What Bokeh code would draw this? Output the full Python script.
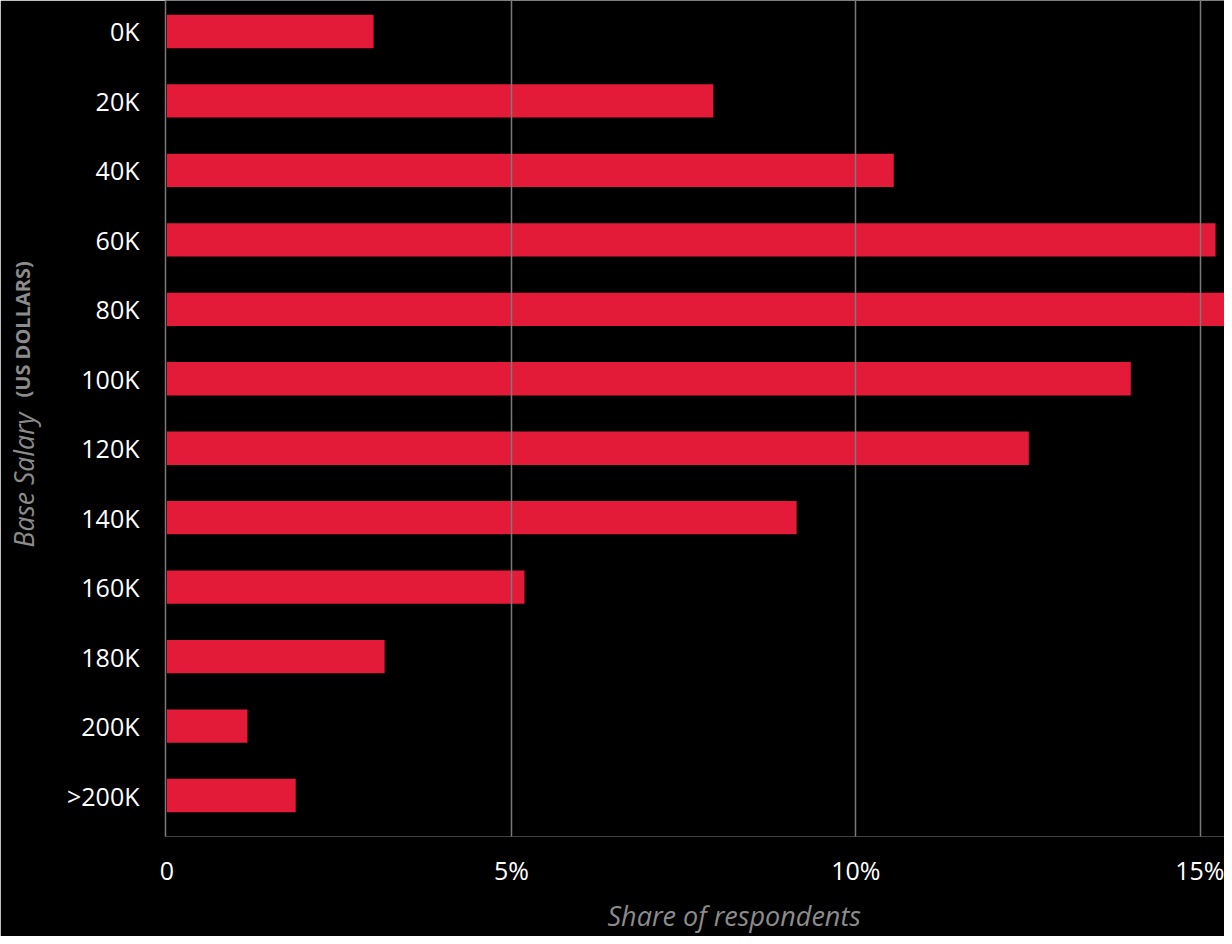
from bokeh.plotting import figure
from bokeh.models import Range1d, FixedTicker, Label
from bokeh.embed import file_html
from bokeh.resources import INLINE

categories = ["0K", "20K", "40K", "60K", "80K", "100K", "120K", "140K", "160K", "180K", "200K", ">200K"]
shares = [3.0, 7.93, 10.55, 15.22, 15.5, 13.99, 12.51, 9.14, 5.19, 3.16, 1.17, 1.87]
x_ticks = [0, 5, 10, 15]
x_tick_labels = ["0", "5%", "10%", "15%"]

positions = list(range(len(categories)))

FONT = "Open Sans"
BAR = "#e31a38"
GREY = "#8c8c8c"

p = figure(width=1224, height=936, output_backend="svg", toolbar_location=None,
           x_range=Range1d(-0.02, 15.35), y_range=Range1d(11.59, -0.446),
           min_border_left=165, min_border_right=0, min_border_top=0, min_border_bottom=100,
           background_fill_color="black", border_fill_color="black", outline_line_color=None)

p.hbar(y=positions, left=0, right=shares, height=0.48, color=BAR, line_color=None)

# y axis
p.yaxis.ticker = FixedTicker(ticks=positions)
p.yaxis.major_label_overrides = {i: c for i, c in zip(positions, categories)}
p.yaxis.major_tick_line_color = None
p.yaxis.minor_tick_line_color = None
p.yaxis.axis_line_color = "#7a7a7a"
p.yaxis.axis_line_width = 1.5
p.yaxis.major_label_standoff = 20
p.yaxis.major_label_text_font = FONT
p.yaxis.major_label_text_font_size = "25px"
p.yaxis.major_label_text_color = "white"

# x axis
p.xaxis.ticker = FixedTicker(ticks=x_ticks)
p.xaxis.major_label_overrides = {t: l for t, l in zip(x_ticks, x_tick_labels)}
p.xaxis.major_tick_line_color = None
p.xaxis.minor_tick_line_color = None
p.xaxis.axis_line_color = None
p.xaxis.major_label_standoff = 10
p.xaxis.major_label_text_font = FONT
p.xaxis.major_label_text_font_size = "25px"
p.xaxis.major_label_text_color = "white"

p.ygrid.grid_line_color = None
p.xgrid.ticker = FixedTicker(ticks=x_ticks[1:])
p.xgrid.grid_line_color = "#7a7a7a"
p.xgrid.grid_line_width = 1.5
p.xgrid.level = "overlay"

# axis titles
p.add_layout(Label(x=442, y=11, x_units="screen", y_units="screen",
                   text="Share of respondents", text_align="left", text_baseline="alphabetic",
                   text_font=FONT, text_font_style="italic", text_font_size="27px",
                   text_color=GREY), "below")
p.add_layout(Label(x=-5, y=289, x_units="screen", y_units="screen", angle=1.5707963,
                   text="Base Salary", text_align="left", text_baseline="alphabetic",
                   text_font=FONT, text_font_style="italic", text_font_size="26.5px",
                   text_color=GREY), "left")
p.add_layout(Label(x=21, y=439, x_units="screen", y_units="screen", angle=1.5707963,
                   text="(US DOLLARS)", text_align="left", text_baseline="alphabetic",
                   text_font=FONT, text_font_style="bold", text_font_size="20px",
                   text_color=GREY), "left")

open("out.html", "w").write(file_html(p, INLINE))
